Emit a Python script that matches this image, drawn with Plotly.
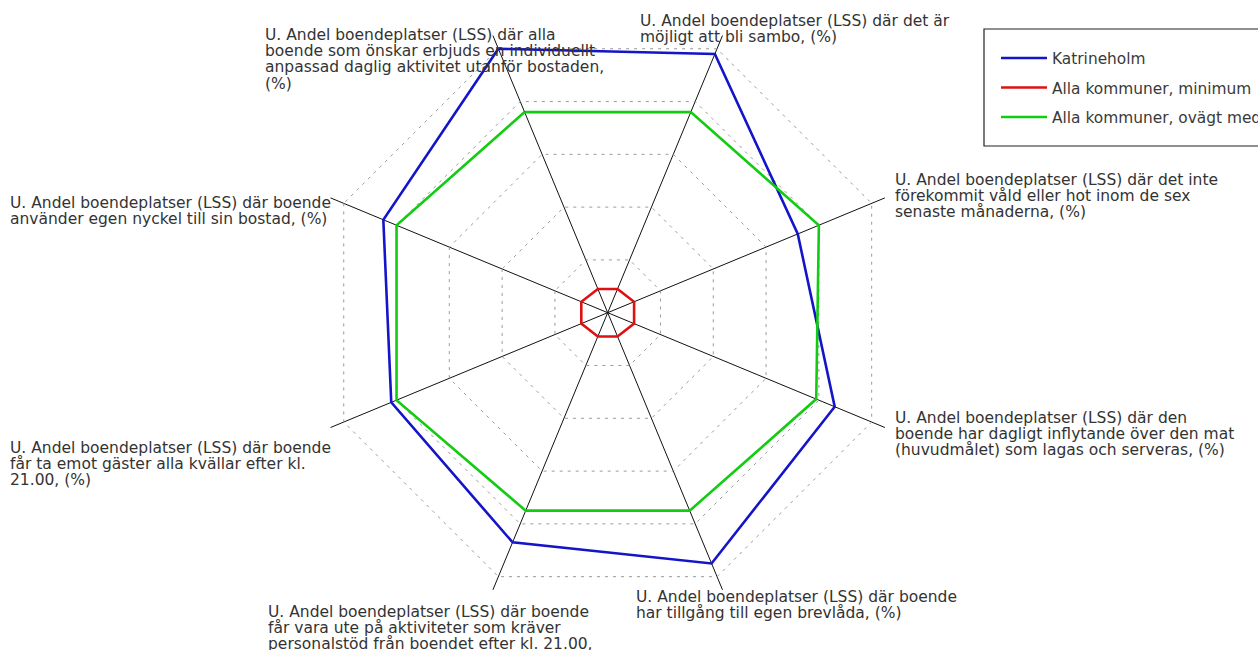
import plotly.graph_objects as go

# ---- data ----
categories = [
    "U. Andel boendeplatser (LSS) där alla<br>boende som önskar erbjuds en individuellt<br>anpassad daglig aktivitet utanför bostaden,<br>(%)",
    "U. Andel boendeplatser (LSS) där det är<br>möjligt att bli sambo, (%)",
    "U. Andel boendeplatser (LSS) där det inte<br>förekommit våld eller hot inom de sex<br>senaste månaderna, (%)",
    "U. Andel boendeplatser (LSS) där den<br>boende har dagligt inflytande över den mat<br>(huvudmålet) som lagas och serveras, (%)",
    "U. Andel boendeplatser (LSS) där boende<br>har tillgång till egen brevlåda, (%)",
    "U. Andel boendeplatser (LSS) där boende<br>får vara ute på aktiviteter som kräver<br>personalstöd från boendet efter kl. 21.00,<br>(%)",
    "U. Andel boendeplatser (LSS) där boende<br>får ta emot gäster alla kvällar efter kl.<br>21.00, (%)",
    "U. Andel boendeplatser (LSS) där boende<br>använder egen nyckel till sin bostad, (%)",
]
series_names = ["Katrineholm", "Alla kommuner, minimum", "Alla kommuner, ovägt medel"]
katrineholm = [100, 98, 72, 86, 95, 87, 82, 85]
alla_minimum = [9, 9, 10, 10, 9, 9, 10, 10]
alla_ovagt_medel = [76, 76, 80, 79, 75, 75, 80, 80]
radial_ticks = [20, 40, 60, 80, 100]

series_values = [katrineholm, alla_minimum, alla_ovagt_medel]
colors = ["#1414c8", "#dd1111", "#11cc11"]

W, H = 1258, 650
cx, cy, R = 607.7, 312.7, 300.0
rmax = 105

fig = go.Figure()
for name, vals, col in zip(series_names, series_values, colors):
    fig.add_trace(go.Scatterpolar(
        r=vals + vals[:1],
        theta=categories + categories[:1],
        mode="lines",
        name=name,
        legendgroup=name,
        line=dict(color=col, width=2.6),
        hoverinfo="skip",
    ))

# label annotations (one per line for tight line spacing)
label_pos = [
    (263, 35), (638, 21), (893, 180), (893, 418),
    (634, 597), (266, 612), (8, 448), (8, 203),
]
line_h = 16.2
annotations = []
for cat, (lx, ly) in zip(categories, label_pos):
    for i, txt in enumerate(cat.split("<br>")):
        annotations.append(dict(
            x=lx / W, y=1 - (ly + i * line_h) / H, xref="paper", yref="paper",
            xanchor="left", yanchor="middle", showarrow=False, text=txt,
            font=dict(family="DejaVu Sans", size=15.5, color="#333333"),
        ))

fig.update_layout(
    width=W, height=H,
    margin=dict(l=0, r=0, t=0, b=0, autoexpand=False),
    paper_bgcolor="white",
    plot_bgcolor="white",
    polar=dict(
        domain=dict(x=[(cx - R) / W, (cx + R) / W], y=[(H - cy - R) / H, (H - cy + R) / H]),
        bgcolor="white",
        gridshape="linear",
        radialaxis=dict(
            range=[0, rmax], tickvals=radial_ticks, showticklabels=False, ticks="",
            showline=False, gridcolor="#9a9a9a", gridwidth=1, griddash="3px,5px",
        ),
        angularaxis=dict(
            rotation=112.5, direction="clockwise", showline=False,
            showticklabels=False, ticks="", gridcolor="#111111", gridwidth=1.2,
        ),
    ),
    showlegend=True,
    legend=dict(
        x=996 / W, y=1 - 41.5 / H, xanchor="left", yanchor="top",
        bgcolor="rgba(0,0,0,0)", borderwidth=0, tracegroupgap=6.5,
        font=dict(family="DejaVu Sans", size=15.4, color="#3a3a3a"),
        itemwidth=46,
    ),
    shapes=[dict(
        type="rect", xref="paper", yref="paper",
        x0=984 / W, x1=1270 / W, y0=1 - 146 / H, y1=1 - 29 / H,
        line=dict(color="#222222", width=1.2), fillcolor="rgba(0,0,0,0)",
    )],
    annotations=annotations,
)

fig.write_html(
    "out.html",
    config={"displayModeBar": False},
    post_script="document.body.style.margin='0px';",
)
